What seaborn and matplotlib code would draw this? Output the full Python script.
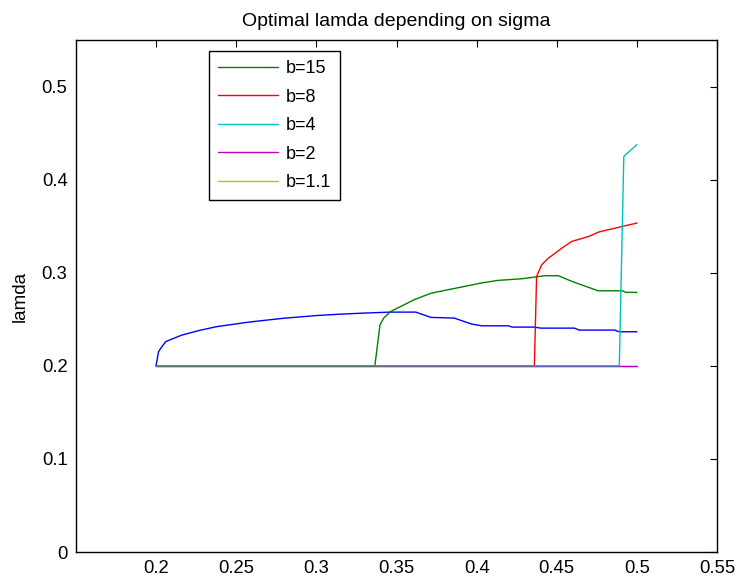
import matplotlib
matplotlib.use("Agg")
import matplotlib.pyplot as plt
import seaborn as sns
import pandas as pd

# ---- data ----
blue_x = [0.200, 0.2015, 0.203, 0.206, 0.216, 0.227, 0.2375, 0.258, 0.279, 0.300, 0.315, 0.329,
          0.346, 0.362, 0.3715, 0.386, 0.3966, 0.403, 0.420, 0.422, 0.436, 0.440, 0.461, 0.464,
          0.486, 0.489, 0.500]
blue_y = [0.200, 0.215, 0.219, 0.226, 0.233, 0.238, 0.242, 0.247, 0.251, 0.254, 0.2555, 0.2566,
          0.2577, 0.2577, 0.252, 0.2513, 0.245, 0.243, 0.243, 0.2416, 0.2416, 0.2405, 0.2405, 0.2384,
          0.2384, 0.2366, 0.2366]

b15_x = [0.200, 0.3365, 0.3397, 0.342, 0.3464, 0.361, 0.3715, 0.382, 0.3925, 0.403, 0.4134, 0.428,
         0.436, 0.4425, 0.451, 0.4594, 0.474, 0.476, 0.491, 0.493, 0.500]
b15_y = [0.200, 0.200, 0.244, 0.2513, 0.2584, 0.271, 0.278, 0.2817, 0.2853, 0.289, 0.2918, 0.2935,
         0.2953, 0.2968, 0.2968, 0.2907, 0.2817, 0.2806, 0.2806, 0.2789, 0.2789]

b8_x = [0.200, 0.436, 0.4374, 0.4406, 0.4448, 0.449, 0.4532, 0.4594, 0.470, 0.476, 0.4866, 0.500]
b8_y = [0.200, 0.200, 0.296, 0.3086, 0.3158, 0.321, 0.3265, 0.3337, 0.339, 0.3437, 0.348, 0.3534]

b4_x = [0.200, 0.489, 0.4918, 0.500]
b4_y = [0.200, 0.200, 0.425, 0.4376]

b2_x = [0.200, 0.500]
b2_y = [0.200, 0.200]

b11_x = [0.200, 0.500]
b11_y = [0.200, 0.200]

x_ticks = [0.2, 0.25, 0.3, 0.35, 0.4, 0.45, 0.5, 0.55]
x_tick_labels = ["0.2", "0.25", "0.3", "0.35", "0.4", "0.45", "0.5", "0.55"]
y_ticks = [0, 0.1, 0.2, 0.3, 0.4, 0.5]
y_tick_labels = ["0", "0.1", "0.2", "0.3", "0.4", "0.5"]

sns.set_style("white")
plt.rcParams['font.family'] = ['Liberation Sans', 'DejaVu Sans']
plt.rcParams['text.color'] = 'black'
plt.rcParams['axes.labelcolor'] = 'black'

fig = plt.figure(figsize=(7.37, 5.85), dpi=100)
ax = fig.add_axes([0.103, 0.0564, 0.870, 0.8752])

series = [
    (b11_x, b11_y, (0.75, 0.75, 0.0), "b=1.1", 2),
    (b2_x, b2_y, (0.75, 0.0, 0.75), "b=2", 3),
    (blue_x, blue_y, (0.0, 0.0, 1.0), None, 1),
    (b15_x, b15_y, (0.0, 0.5, 0.0), "b=15", 4),
    (b8_x, b8_y, (1.0, 0.0, 0.0), "b=8", 5),
    (b4_x, b4_y, (0.0, 0.75, 0.75), "b=4", 6),
]
handles = {}
for xs, ys, col, lab, z in series:
    df = pd.DataFrame({"x": xs, "y": ys})
    sns.lineplot(data=df, x="x", y="y", ax=ax, color=col, linewidth=1.0,
                 sort=False, estimator=None, zorder=z)
    if lab is not None:
        handles[lab] = ax.lines[-1]

order = ["b=15", "b=8", "b=4", "b=2", "b=1.1"]
leg = ax.legend([handles[k] for k in order], order,
                loc="upper left", bbox_to_anchor=(0.2075, 0.9785),
                fontsize=13, frameon=True, fancybox=False, framealpha=1,
                edgecolor="black", handlelength=3.3, handletextpad=0.45,
                borderpad=0.5, labelspacing=0.64, borderaxespad=0)
leg.get_frame().set_linewidth(1.0)
for t in leg.get_texts():
    t.set_color("black")

ax.set_xlim(0.15, 0.55)
ax.set_ylim(0, 0.55)
ax.set_xticks(x_ticks)
ax.set_xticklabels(x_tick_labels)
ax.set_yticks(y_ticks)
ax.set_yticklabels(y_tick_labels)
ax.tick_params(direction="in", length=5, width=0.8, top=True, right=True,
               labelsize=13.3, colors="black", pad=6)
for s in ax.spines.values():
    s.set_visible(True)
    s.set_color("black")
    s.set_linewidth(1.0)

ax.set_xlabel("")
ax.set_ylabel("lamda", fontsize=13.5, labelpad=9, color="black")
ax.set_title("Optimal lamda depending on sigma", fontsize=14, pad=10, color="black")

fig.savefig("out.png", dpi=100, facecolor="white")
